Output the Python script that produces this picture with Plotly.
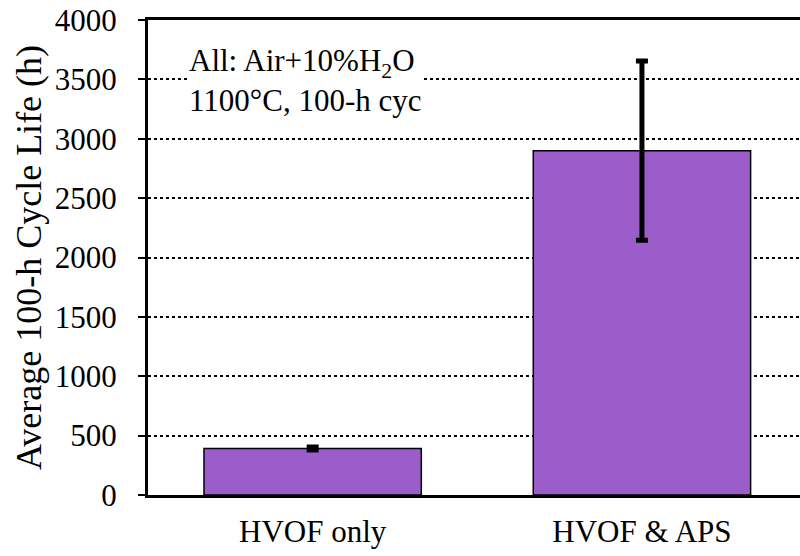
import plotly.graph_objects as go

categories = ["HVOF only", "HVOF & APS"]
values = [392, 2900]
err_plus = [12, 755]
err_minus = [12, 755]
y_ticks = [0, 500, 1000, 1500, 2000, 2500, 3000, 3500, 4000]
note_lines = ["All: Air+10%H<sub>2</sub>O", "1100°C, 100-h cyc"]

FONT = "Liberation Serif, Times New Roman, serif"

fig = go.Figure()
fig.add_trace(go.Bar(
    x=categories, y=values, width=0.66,
    marker=dict(color="#9B5DCA", line=dict(color="black", width=1.5)),
    error_y=dict(type="data", symmetric=False, array=err_plus, arrayminus=err_minus,
                 color="black", thickness=5, width=6),
))

fig.update_layout(
    width=800, height=556,
    margin=dict(l=148, r=0, t=20, b=61, autoexpand=False),
    plot_bgcolor="white", paper_bgcolor="white",
    showlegend=False,
    font=dict(family=FONT, color="black", size=31),
    xaxis=dict(range=[-0.5, 1.48], showline=True, linecolor="black", linewidth=3,
               mirror=True, ticks="", showgrid=False, ticklabelstandoff=7,
               automargin=False, tickfont=dict(size=31, family=FONT)),
    yaxis=dict(range=[0, 4000], tickvals=y_ticks, showline=True, linecolor="black",
               linewidth=3, ticks="outside", ticklen=7, tickwidth=2, tickcolor="black",
               showgrid=True, gridcolor="black", gridwidth=2, griddash="dot",
               zeroline=False, ticklabelstandoff=15, automargin=False,
               tickfont=dict(size=31, family=FONT),
               title=dict(text="Average 100-h Cycle Life (h)", font=dict(size=36, family=FONT),
                          standoff=3)),
)

fig.add_annotation(
    xref="paper", yref="paper", x=0.06, y=0.956, xanchor="left", yanchor="top",
    text="<br>".join(note_lines), showarrow=False, align="left",
    font=dict(size=31, family=FONT, color="black"), bgcolor="white",
)

fig.write_html("out.html")
